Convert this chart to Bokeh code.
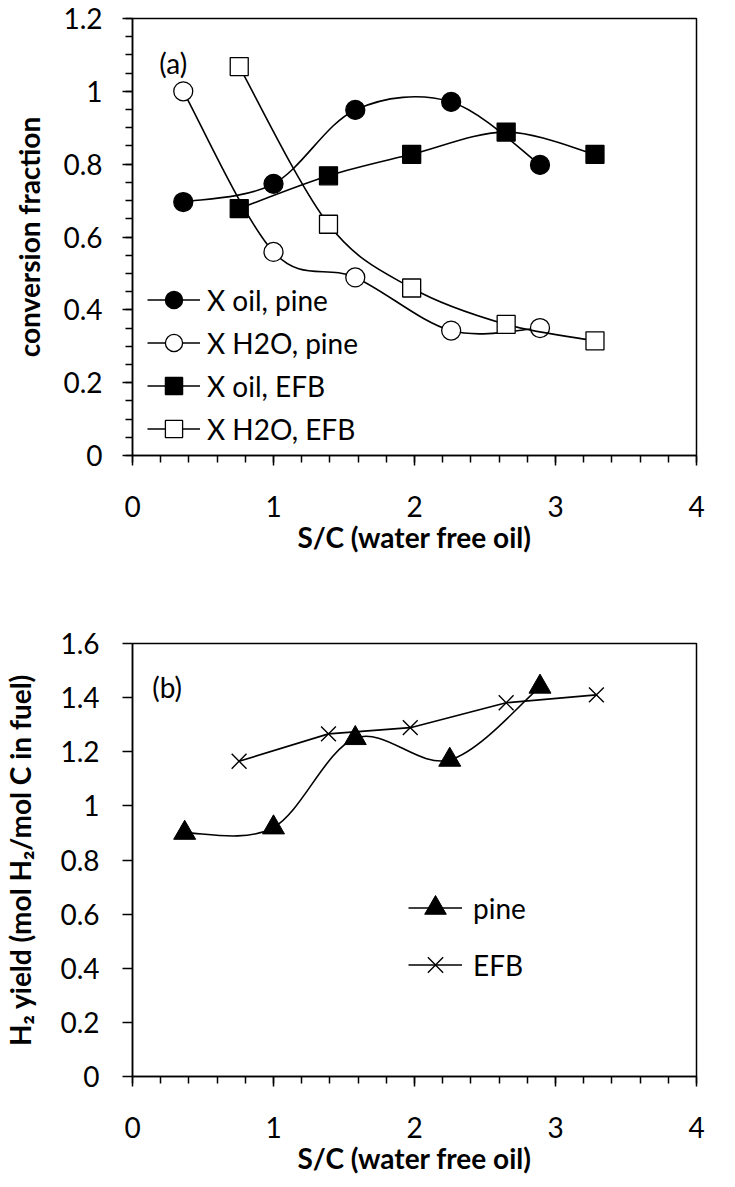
import numpy as np
from bokeh.plotting import figure
from bokeh.layouts import column
from bokeh.models import FixedTicker, Legend, LegendItem, Label
from bokeh.embed import file_html
from bokeh.resources import INLINE

# ---------------- data: panel (a) ----------------
sc_pine = [0.36, 1.0, 1.58, 2.26, 2.89]
x_oil_pine = [0.696, 0.746, 0.949, 0.971, 0.798]
x_h2o_pine = [1.0, 0.559, 0.489, 0.343, 0.35]
sc_efb = [0.757, 1.39, 1.98, 2.65, 3.28]
x_oil_efb = [0.678, 0.768, 0.827, 0.888, 0.827]
x_h2o_efb = [1.068, 0.635, 0.46, 0.36, 0.315]

# ---------------- data: panel (b) ----------------
sc_pine_b = [0.37, 1.0, 1.58, 2.25, 2.89]
h2_pine = [0.90, 0.92, 1.25, 1.17, 1.44]
sc_efb_b = [0.756, 1.39, 1.97, 2.65, 3.29]
h2_efb = [1.165, 1.266, 1.289, 1.381, 1.41]

# ---------------- ticks ----------------
x_ticks = [0, 1, 2, 3, 4]
x_labels = ["0", "1", "2", "3", "4"]
ya_ticks = [0, 0.2, 0.4, 0.6, 0.8, 1, 1.2]
ya_labels = ["0", "0.2", "0.4", "0.6", "0.8", "1", "1.2"]
yb_ticks = [0, 0.2, 0.4, 0.6, 0.8, 1, 1.2, 1.4, 1.6]
yb_labels = ["0", "0.2", "0.4", "0.6", "0.8", "1", "1.2", "1.4", "1.6"]

FONT = "Lato"
TICK_SIZE = "28px"
LABEL_SIZE = "28px"


def smooth(xs, ys):
    """Cubic Bezier segments through the data points (Excel-like smoothed line)."""
    n = len(xs)
    d = dict(x0=[], y0=[], x1=[], y1=[], cx0=[], cy0=[], cx1=[], cy1=[])
    for i in range(n - 1):
        xp, yp = (xs[i - 1], ys[i - 1]) if i > 0 else (xs[i], ys[i])
        xn, yn = (xs[i + 2], ys[i + 2]) if i + 2 < n else (xs[i + 1], ys[i + 1])
        d["x0"].append(xs[i]); d["y0"].append(ys[i])
        d["x1"].append(xs[i + 1]); d["y1"].append(ys[i + 1])
        d["cx0"].append(xs[i] + (xs[i + 1] - xp) / 6)
        d["cy0"].append(ys[i] + (ys[i + 1] - yp) / 6)
        d["cx1"].append(xs[i + 1] - (xn - xs[i]) / 6)
        d["cy1"].append(ys[i + 1] - (yn - ys[i]) / 6)
    return d


def style(p, yticks, ylabels, yminor, xlabel, ylabel, ystand, ylab_stand):
    p.xgrid.visible = False
    p.ygrid.visible = False
    p.outline_line_color = "black"
    p.outline_line_width = 1.5
    p.background_fill_color = "white"
    p.border_fill_color = "white"

    xa = p.xaxis[0]
    xa.ticker = FixedTicker(ticks=x_ticks, minor_ticks=list(np.round(np.arange(0, 4.001, 0.2), 3)))
    xa.major_label_overrides = dict(zip(x_ticks, x_labels))
    xa.axis_label = xlabel
    ya = p.yaxis[0]
    ya.ticker = FixedTicker(ticks=yticks, minor_ticks=yminor)
    ya.major_label_overrides = dict(zip(yticks, ylabels))
    ya.axis_label = ylabel

    for ax in (xa, ya):
        ax.axis_line_color = "black"
        ax.axis_line_width = 1.5
        ax.major_tick_line_color = "black"
        ax.major_tick_line_width = 1.5
        ax.minor_tick_line_color = "black"
        ax.minor_tick_line_width = 1.5
        ax.major_tick_in = 0
        ax.major_tick_out = 10
        ax.minor_tick_in = 0
        ax.minor_tick_out = 7
        ax.major_label_text_font = FONT
        ax.major_label_text_font_size = TICK_SIZE
        ax.major_label_text_color = "black"
        ax.axis_label_text_font = FONT
        ax.axis_label_text_font_size = LABEL_SIZE
        ax.axis_label_text_font_style = "bold"
        ax.axis_label_text_color = "black"
    xa.major_label_standoff = 30
    xa.axis_label_standoff = 0
    ya.major_label_standoff = ystand
    ya.axis_label_standoff = ylab_stand
    ya.major_label_orientation = "horizontal"


# ---------------- panel (a) ----------------
p1 = figure(width=725, height=592, x_range=(0, 4), y_range=(0, 1.2),
            output_backend="svg", toolbar_location=None,
            min_border_left=127, min_border_right=11, min_border_top=18, min_border_bottom=137)
style(p1, ya_ticks, ya_labels, list(np.round(np.arange(0, 1.2001, 0.05), 3)),
      "S/C (water free oil)", "conversion fraction", 20, 14)

LW = 1.6
items_a = []
series_a = [
    ("X oil, pine", sc_pine, x_oil_pine, "circle", "black", 19),
    ("X H2O, pine", sc_pine, x_h2o_pine, "circle", "white", 19),
    ("X oil, EFB", sc_efb, x_oil_efb, "square", "black", 18),
    ("X H2O, EFB", sc_efb, x_h2o_efb, "square", "white", 18),
]
for name, xs, ys, marker, fill, size in series_a:
    lr = p1.bezier(source=smooth(xs, ys), x0="x0", y0="y0", x1="x1", y1="y1",
                   cx0="cx0", cy0="cy0", cx1="cx1", cy1="cy1",
                   line_color="black", line_width=LW)
    sr = p1.scatter(xs, ys, marker=marker, size=size, fill_color=fill,
                    line_color="black", line_width=1.3)
    items_a.append(LegendItem(label=name, renderers=[lr, sr]))

leg_a = Legend(items=items_a, location=(15, 5), orientation="vertical",
               glyph_width=53, glyph_height=43, label_height=43, spacing=0,
               padding=0, margin=0, label_standoff=7,
               label_text_font=FONT, label_text_font_size=TICK_SIZE,
               label_text_color="black",
               background_fill_alpha=0, border_line_alpha=0)
p1.add_layout(leg_a, "center")
p1.add_layout(Label(x=0.19, y=1.078, text="(a)", text_font=FONT, text_font_size="28px",
                    text_baseline="middle", text_align="left", text_color="black"))

# ---------------- panel (b) ----------------
p2 = figure(width=725, height=585, x_range=(0, 4), y_range=(0, 1.6),
            output_backend="svg", toolbar_location=None,
            min_border_left=124, min_border_right=29, min_border_top=51, min_border_bottom=94)
style(p2, yb_ticks, yb_labels, [], "S/C (water free oil)",
      "H\u2082 yield (mol H\u2082/mol C in fuel)", 23, 20)

lr_p = p2.bezier(source=smooth(sc_pine_b, h2_pine), x0="x0", y0="y0", x1="x1", y1="y1",
                 cx0="cx0", cy0="cy0", cx1="cx1", cy1="cy1",
                 line_color="black", line_width=LW)
sr_p = p2.scatter(sc_pine_b, h2_pine, marker="triangle", size=22, fill_color="black",
                  line_color="black")
lr_e = p2.line(sc_efb_b, h2_efb, line_color="black", line_width=LW)
sr_e = p2.scatter(sc_efb_b, h2_efb, marker="x", size=21, line_color="black", line_width=1.4)

leg_b = Legend(items=[LegendItem(label="pine", renderers=[lr_p, sr_p]),
                      LegendItem(label="EFB", renderers=[lr_e, sr_e])],
               location=(276, 83), orientation="vertical",
               glyph_width=54, glyph_height=57, label_height=57, spacing=0,
               padding=0, margin=0, label_standoff=11,
               label_text_font=FONT, label_text_font_size=TICK_SIZE,
               label_text_color="black",
               background_fill_alpha=0, border_line_alpha=0)
p2.add_layout(leg_b, "center")
p2.add_layout(Label(x=0.14, y=1.439, text="(b)", text_font=FONT, text_font_size="28px",
                    text_baseline="middle", text_align="left", text_color="black"))

layout = column(p1, p2, spacing=0)
open("out.html", "w").write(file_html(layout, INLINE))
